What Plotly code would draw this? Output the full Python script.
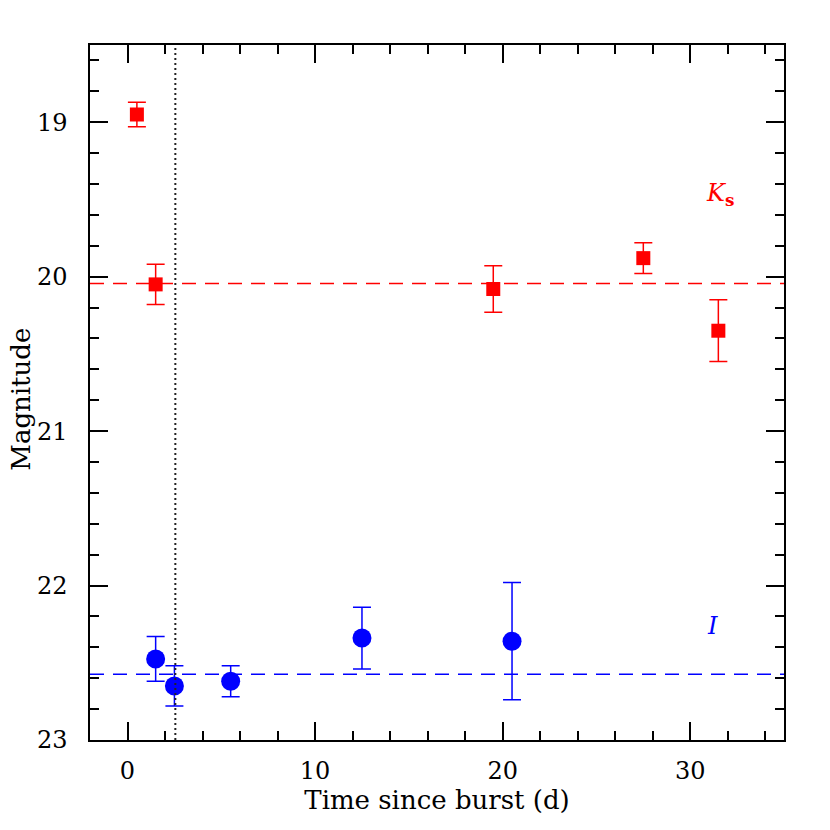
import plotly.graph_objects as go

# Ks band
ks_t = [0.5, 1.5, 19.5, 27.5, 31.5]
ks_mag = [18.95, 20.05, 20.08, 19.88, 20.35]
ks_err = [0.08, 0.13, 0.15, 0.10, 0.20]
ks_mean = 20.045

# I band
i_t = [1.5, 2.5, 5.5, 12.5, 20.5]
i_mag = [22.475, 22.65, 22.62, 22.34, 22.36]
i_err = [0.145, 0.13, 0.10, 0.20, 0.38]
i_mean = 22.575

t_burst = 2.55

red = '#ff0000'
blue = '#0000ff'
font = 'DejaVu Serif'

fig = go.Figure()

fig.add_trace(go.Scatter(
    x=ks_t, y=ks_mag, mode='markers',
    marker=dict(symbol='square', size=14, color=red),
    error_y=dict(type='data', array=ks_err, color=red, thickness=1.5, width=9),
    showlegend=False))

fig.add_trace(go.Scatter(
    x=i_t, y=i_mag, mode='markers',
    marker=dict(symbol='circle', size=19, color=blue),
    error_y=dict(type='data', array=i_err, color=blue, thickness=1.5, width=9),
    showlegend=False))

fig.add_hline(y=ks_mean, line=dict(color=red, width=1.5, dash='14px,9px'))
fig.add_hline(y=i_mean, line=dict(color=blue, width=1.5, dash='14px,9px'))
fig.add_vline(x=t_burst, line=dict(color='#222222', width=2, dash='2px,3px'))

fig.add_annotation(x=31.6, y=19.47, text='<i>K</i><sub><b>s</b></sub>', showarrow=False,
                   font=dict(family=font, size=24, color=red))
fig.add_annotation(x=31.2, y=22.26, text='<i>I</i>', showarrow=False,
                   font=dict(family=font, size=24, color=blue))

# y title as annotation so it can sit further left
fig.add_annotation(xref='paper', yref='paper', x=-0.099, y=0.49, text='Magnitude',
                   textangle=-90, showarrow=False, xanchor='center', yanchor='middle',
                   font=dict(family=font, size=26, color='black'))

axis_common = dict(
    showline=True, linecolor='black', linewidth=1.5, mirror='ticks',
    ticks='inside', ticklen=18, tickwidth=1.5, tickcolor='black',
    showgrid=False, zeroline=False, automargin=False,
    tickfont=dict(family=font, size=24, color='black'),
    title_font=dict(family=font, size=26, color='black'),
)

fig.update_xaxes(range=[-2, 35], dtick=10, tick0=0, ticklabelstandoff=8,
                 minor=dict(dtick=2, tick0=0, ticks='inside', ticklen=9, tickwidth=1.5, tickcolor='black'),
                 title_text='Time since burst (d)', title_standoff=4, **axis_common)
fig.update_yaxes(range=[23, 18.5], dtick=1, tick0=19, ticklabelstandoff=16,
                 minor=dict(dtick=0.2, tick0=19, ticks='inside', ticklen=9, tickwidth=1.5, tickcolor='black'),
                 **axis_common)

fig.update_layout(
    width=830, height=830,
    margin=dict(l=82, r=54, t=37, b=98),
    plot_bgcolor='white', paper_bgcolor='white',
)

fig.write_html("out.html")
